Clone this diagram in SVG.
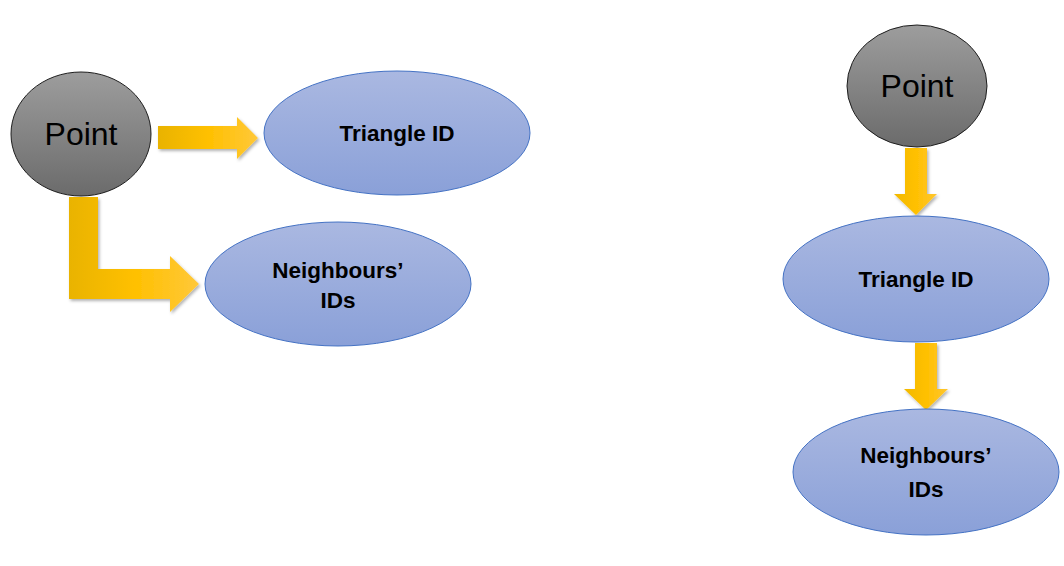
<svg xmlns="http://www.w3.org/2000/svg" width="1064" height="566" viewBox="0 0 1064 566">
<defs>
<linearGradient id="gPt" x1="0" y1="0" x2="0" y2="1"><stop offset="0" stop-color="#9d9d9d"/><stop offset="1" stop-color="#6b6b6b"/></linearGradient>
<linearGradient id="gBl" x1="0" y1="0" x2="0" y2="1"><stop offset="0" stop-color="#aab8e1"/><stop offset="1" stop-color="#8aa0d8"/></linearGradient>
<linearGradient id="gArH" x1="0" y1="0" x2="1" y2="0"><stop offset="0" stop-color="#e9b300"/><stop offset="0.5" stop-color="#ffc000"/><stop offset="1" stop-color="#ffc83a"/></linearGradient>
<linearGradient id="gArV" x1="0" y1="0" x2="1" y2="0"><stop offset="0" stop-color="#f2b900"/><stop offset="0.5" stop-color="#ffc000"/><stop offset="1" stop-color="#ffc630"/></linearGradient>
<filter id="sh" x="-20%" y="-20%" width="140%" height="140%"><feDropShadow dx="1.5" dy="2" stdDeviation="1.5" flood-color="#000" flood-opacity="0.3"/></filter>
</defs>
<style>
.pt{fill:url(#gPt);stroke:#1e1e1e;stroke-width:1}
.bl{fill:url(#gBl);stroke:#4472c4;stroke-width:1}
.ptt{font-family:"Liberation Sans",Arial,sans-serif;font-size:32px;fill:#000;text-anchor:middle}
.blt{font-family:"Liberation Sans",Arial,sans-serif;font-size:22.5px;font-weight:bold;fill:#000;text-anchor:middle}
.ah{fill:url(#gArH);filter:url(#sh)}
.av{fill:url(#gArV);filter:url(#sh)}
</style>
<g id="connectors">
<polygon class="ah" points="158,126 237,126 237,117 258,138 237,159 237,149 158,149"/>
<polygon class="ah" points="69,197 98,197 98,269 170,269 170,256 199,284 170,312 170,299 69,299"/>
<polygon class="av" points="905,148 927,148 927,194 937,194 916,215 894,194 905,194"/>
<polygon class="av" points="915,343 937,343 937,389 948,389 926,410 904,389 915,389"/>
</g>
<g id="point-left">
<ellipse class="pt" cx="81" cy="134" rx="70" ry="62"/>
<text class="ptt" x="81" y="145">Point</text>
</g>
<g id="triangle-left">
<ellipse class="bl" cx="397" cy="133" rx="133" ry="62"/>
<text class="blt" x="397" y="141">Triangle ID</text>
</g>
<g id="neighbours-left">
<ellipse class="bl" cx="338" cy="284" rx="133" ry="62"/>
<text class="blt" x="338" y="278">Neighbours’</text>
<text class="blt" x="338" y="308">IDs</text>
</g>
<g id="point-right">
<ellipse class="pt" cx="917" cy="86" rx="70" ry="61"/>
<text class="ptt" x="917" y="97">Point</text>
</g>
<g id="triangle-right">
<ellipse class="bl" cx="916" cy="279" rx="133" ry="63"/>
<text class="blt" x="916" y="287">Triangle ID</text>
</g>
<g id="neighbours-right">
<ellipse class="bl" cx="926" cy="472" rx="133" ry="63"/>
<text class="blt" x="926" y="463">Neighbours’</text>
<text class="blt" x="926" y="497">IDs</text>
</g>
</svg>
